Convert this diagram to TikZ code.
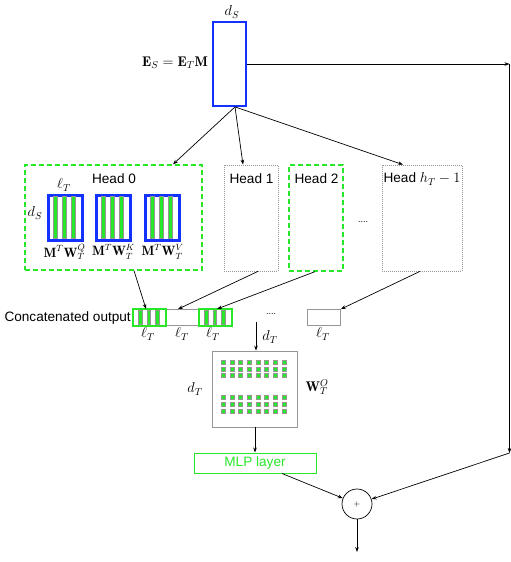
\documentclass[tikz,border=0pt]{standalone}
\usepackage{fontspec}
\newfontfamily\hv{Liberation Sans}
\usetikzlibrary{arrows.meta,calc}
\definecolor{grn}{RGB}{40,230,40}
\definecolor{blu}{RGB}{20,50,255}
\definecolor{gry}{RGB}{150,150,150}
\begin{document}
\begin{tikzpicture}[x=1pt,y=-1pt,
  font=\fontsize{14}{16}\selectfont,
  >={Stealth[length=5pt,width=3.6pt]},
  arr/.style={->,line width=0.7pt},
  greendash/.style={draw=grn,dash pattern=on 5pt off 3pt,line width=1.3pt,inner sep=0pt},
  graydot/.style={draw=gry,dash pattern=on 1pt off 1pt,line width=0.7pt,inner sep=0pt},
  matbox/.style={draw=blu,line width=1.6pt,minimum width=33pt,minimum height=44pt,inner sep=0pt},
  bar/.style={fill=grn,draw=gry,line width=0.5pt},
  cellg/.style={draw=grn,line width=1.1pt,minimum width=33pt,minimum height=16pt,inner sep=0pt},
  cellw/.style={draw=gry,line width=0.8pt,minimum width=33pt,minimum height=16pt,inner sep=0pt},
  sq/.style={fill=grn,draw=gry,line width=0.3pt},
  lbl/.style={inner sep=0pt},
  hd/.style={font=\hv\fontsize{13.6}{16}\selectfont,inner sep=0pt},
  dots/.style={font=\hv\fontsize{9}{10}\selectfont,inner sep=0pt}]
\useasboundingbox (0,0) rectangle (511,562);

% E_S box
\node[draw=blu,line width=1.8pt,minimum width=33pt,minimum height=84pt,inner sep=0pt] (es) at (229.5,64) {};
\node[lbl] (dslbl) at (232,12) {$d_S$};
\node[lbl,anchor=east] (eslbl) at (208,63) {$\mathbf{E}_S=\mathbf{E}_T\mathbf{M}$};

% heads
\node[greendash,minimum width=177pt,minimum height=105pt] (h0) at (113.5,217.5) {};
\node[graydot,minimum width=54pt,minimum height=106pt] (h1) at (251,218) {};
\node[greendash,minimum width=54pt,minimum height=106pt] (h2) at (316,218) {};
\node[graydot,minimum width=80pt,minimum height=106pt] (hh) at (422,218) {};
\node[hd] (t0) at (114,179) {Head 0};
\node[hd] (t1) at (251.5,179) {Head 1};
\node[hd] (t2) at (316.5,179) {Head 2};
\node[hd] (th) at (422,179) {Head \fontsize{14}{16}\selectfont$h_T-1$};
\node[dots] (hdots) at (363,222) {....};

% matrices in head 0
\node[lbl] (ltm) at (64,185) {$\ell_T$};
\node[lbl] (dsm) at (35,213) {$d_S$};
\foreach \n/\cx in {mq/65.5,mk/113.5,mv/162.5}{
  \node[matbox] (\n) at (\cx,218) {};
  \foreach \o in {5.5,14.5,23.5}
    \filldraw[bar] ($(\n.north west)+(\o,0.8)$) rectangle ++(4,42.4);
  \draw[blu,line width=1.6pt] (\n.north west) rectangle (\n.south east);
}
\node[lbl,font=\fontsize{13.5}{16}\selectfont] (lq) at (64.5,252) {$\mathbf{M}^T\mathbf{W}_T^Q$};
\node[lbl,font=\fontsize{13.5}{16}\selectfont] (lk) at (113.5,252) {$\mathbf{M}^T\mathbf{W}_T^K$};
\node[lbl,font=\fontsize{13.5}{16}\selectfont] (lv) at (162.5,252) {$\mathbf{M}^T\mathbf{W}_T^V$};

% arrows from E_S
\draw[arr] ([xshift=5.5pt]es.south) -- ([xshift=59.5pt]h0.north);
\draw[arr] ([xshift=5.5pt]es.south) -- ([xshift=-8pt]h1.north);
\draw[arr] ([xshift=5.5pt]es.south) -- ([xshift=-19pt]hh.north);

% residual path
\coordinate (r1) at (509.5,64);
\coordinate (r2) at (509.5,453);
\draw[arr] (es.east |- r1) -- (r1);
\draw[arr] (r1) -- (r2);

% concatenated output
\node[hd,anchor=east] (conc) at (131,318) {Concatenated output};
\node[cellg] (ca) at (149.5,317.5) {};
\node[cellw] (cb) at (182.5,317.5) {};
\node[cellg] (cc) at (215.5,317.5) {};
\node[cellw] (cd) at (324,317.5) {};
\foreach \n in {ca,cc}{
  \foreach \o in {6,14.5,23}
    \filldraw[bar] ($(\n.north west)+(\o,1)$) rectangle ++(3.6,14);
  \draw[grn,line width=1.1pt] (\n.north west) rectangle (\n.south east);
}
\node[lbl] (la) at (148,334) {$\ell_T$};
\node[lbl] (lb) at (182,334) {$\ell_T$};
\node[lbl] (lc) at (213,334) {$\ell_T$};
\node[lbl] (ld) at (323,334) {$\ell_T$};
\node[dots] (cdots) at (271,314) {....};

\draw[arr] ([xshift=20.5pt]h0.south) -- ([xshift=-3.5pt]ca.north);
\draw[arr] ([xshift=7pt]h1.south) -- ([xshift=-4.5pt]cb.north);
\draw[arr] ([xshift=-1pt]h2.south) -- ([xshift=1.5pt]cc.north);
\draw[arr] ([xshift=-2pt]hh.south) -- (cd.north east);

% W_T^O
\node[draw=gry,line width=0.8pt,minimum width=85pt,minimum height=76pt,inner sep=0pt] (wo) at (254.5,389) {};
\foreach \r in {362,369,375.5,397,404,411}
  \foreach \c in {0,...,7}
    \filldraw[sq] ({223+\c*8.7-2},{\r-2}) rectangle ++(4,4);
\coordinate (win) at (256,322);
\draw[arr] (win) -- (win |- wo.north);
\node[lbl] (dtin) at (270,337) {$d_T$};
\node[lbl] (dtw) at (195,389) {$d_T$};
\node[lbl] (wlbl) at (317,387) {$\mathbf{W}_T^O$};

% MLP
\node[draw=grn,line width=1pt,minimum width=122pt,minimum height=20pt,inner sep=0pt,
      text=grn,font=\hv\fontsize{13.6}{16}\selectfont] (mlp) at (255,463) {MLP layer};
\draw[arr] (wo.south -| mlp.north) -- (mlp.north);

% plus
\node[draw,circle,minimum size=30pt,inner sep=0pt,line width=0.7pt,font=\fontsize{8}{9}\selectfont] (plus) at (357,504) {+};
\draw[arr] ([xshift=27pt]mlp.south) -- (plus);
\draw[arr] (r2) -- (plus);
\coordinate (out) at (357,552);
\draw[arr] (plus.south) -- (out);
\end{tikzpicture}
\end{document}
